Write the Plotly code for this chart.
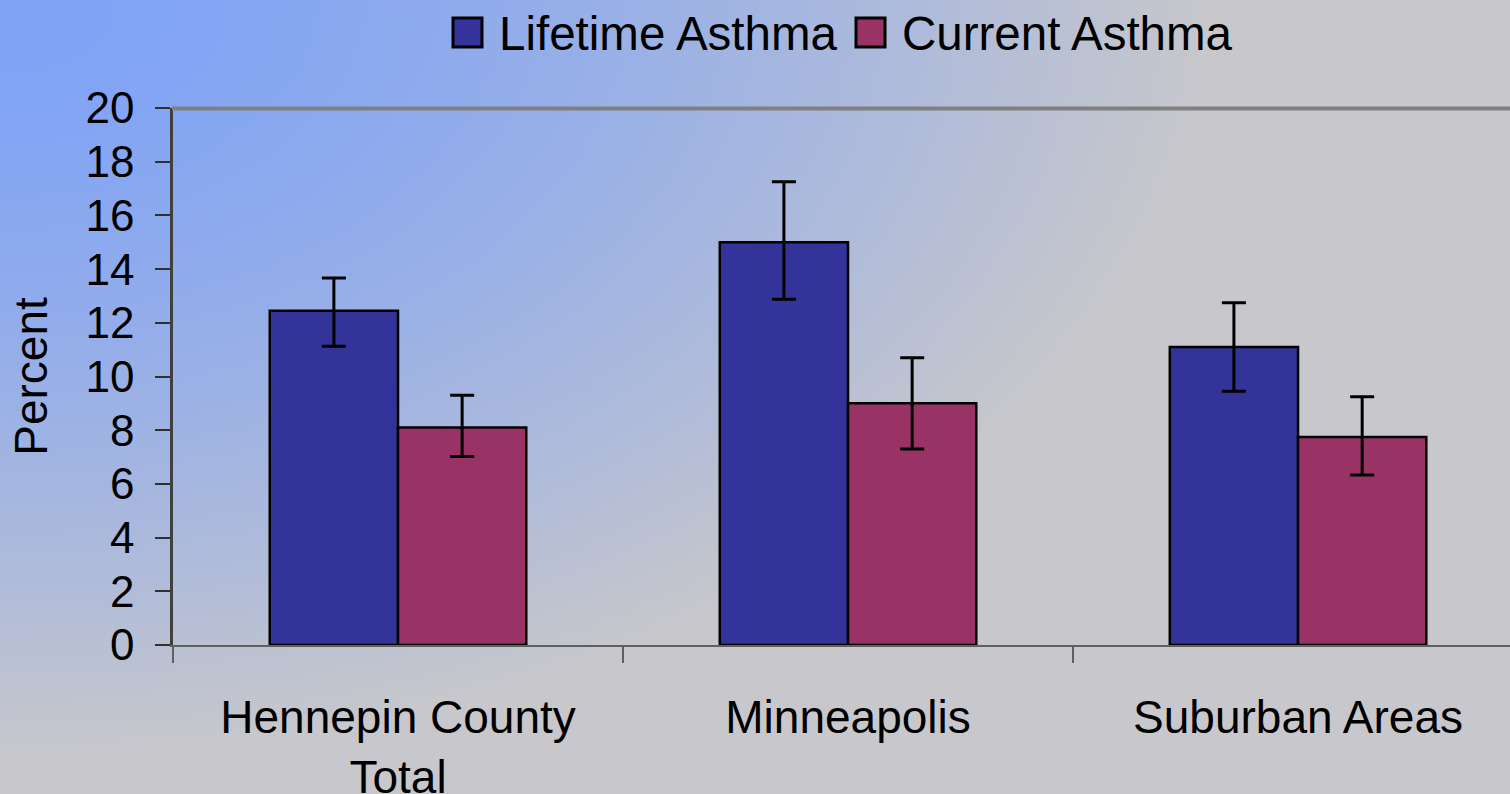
import base64, struct, zlib
import numpy as np
import plotly.graph_objects as go

categories = ["Hennepin County<br>Total", "Minneapolis", "Suburban Areas"]
lifetime = [12.45, 15.0, 11.1]
lifetime_plus = [1.22, 2.25, 1.65]
lifetime_minus = [1.32, 2.12, 1.65]
current = [8.1, 9.0, 7.75]
current_plus = [1.2, 1.7, 1.5]
current_minus = [1.08, 1.7, 1.42]
series_names = ["Lifetime Asthma", "Current Asthma"]
y_ticks = list(range(0, 21, 2))

W, H = 1510, 794
L, R, T, B = 173, 0, 108, 149
PW, PH = W - L - R, H - T - B

BLUE = "#333399"
RED = "#993366"
FONT = "Liberation Sans, Arial, sans-serif"


def gradient_png(w, h):
    c0 = np.array([127, 163, 247], dtype=float)
    c1 = np.array([200, 200, 204], dtype=float)
    xs = (np.arange(w) + 0.5) / w
    ys = (np.arange(h) + 0.5) / h
    X, Y = np.meshgrid(xs, ys)
    u = X / 0.8
    v = Y / 0.95
    d = np.clip(np.sqrt(u ** 2 + v ** 2), 0, 1)
    t = d ** 1.5
    img = (c0[None, None, :] * (1 - t[..., None]) + c1[None, None, :] * t[..., None])
    img = np.clip(img, 0, 255).astype(np.uint8)
    raw = b"".join(b"\x00" + row.tobytes() for row in img)

    def chunk(tp, data):
        c = struct.pack(">I", len(data)) + tp + data
        return c + struct.pack(">I", zlib.crc32(tp + data) & 0xFFFFFFFF)

    png = b"\x89PNG\r\n\x1a\n"
    png += chunk(b"IHDR", struct.pack(">IIBBBBB", w, h, 8, 2, 0, 0, 0))
    png += chunk(b"IDAT", zlib.compress(raw, 9))
    png += chunk(b"IEND", b"")
    return "data:image/png;base64," + base64.b64encode(png).decode()


def px_x(px):
    return (px - L) / PW


def px_y(py):
    return (H - B - py) / PH


fig = go.Figure()
fig.add_trace(go.Bar(
    x=categories, y=lifetime, name=series_names[0],
    marker=dict(color=BLUE, line=dict(color="black", width=2.5)),
    error_y=dict(type="data", symmetric=False, array=lifetime_plus,
                 arrayminus=lifetime_minus, color="black", thickness=3, width=12),
    showlegend=False,
))
fig.add_trace(go.Bar(
    x=categories, y=current, name=series_names[1],
    marker=dict(color=RED, line=dict(color="black", width=2.5)),
    error_y=dict(type="data", symmetric=False, array=current_plus,
                 arrayminus=current_minus, color="black", thickness=3, width=12),
    showlegend=False,
))

# top border line of the plot area (unclipped, paper-referenced)
fig.add_shape(type="line", xref="paper", yref="paper", x0=px_x(172), x1=1,
              y0=px_y(108.5), y1=px_y(108.5),
              line=dict(color="#808080", width=4), layer="above")

# manual legend (large swatches as in reference)
legend_items = [(452, BLUE, series_names[0]), (855, RED, series_names[1])]
for sx, col, name in legend_items:
    fig.add_shape(type="rect", xref="paper", yref="paper",
                  x0=px_x(sx + 1), x1=px_x(sx + 30), y0=px_y(47), y1=px_y(18),
                  fillcolor=col, line=dict(color="black", width=3))
    fig.add_annotation(xref="paper", yref="paper", x=px_x(sx + 45), y=px_y(33),
                       xanchor="left", yanchor="middle", text=name, showarrow=False,
                       font=dict(family=FONT, size=47.5, color="black"))

fig.add_layout_image(dict(
    source=gradient_png(302, 159), xref="paper", yref="paper",
    x=-L / PW, y=1 + T / PH, sizex=W / PW, sizey=H / PH,
    xanchor="left", yanchor="top", sizing="stretch", layer="below",
))

fig.update_layout(
    width=W, height=H,
    margin=dict(l=L, r=R, t=T, b=B, pad=0, autoexpand=False),
    paper_bgcolor="rgba(0,0,0,0)", plot_bgcolor="rgba(0,0,0,0)",
    barmode="group", bargap=0.43, bargroupgap=0,
    font=dict(family=FONT, size=46, color="black"),
    showlegend=False,
    xaxis=dict(
        range=[-0.5, 2.471], showgrid=False, zeroline=False, automargin=False,
        showline=True, linecolor="#606060", linewidth=2,
        ticks="outside", tickson="boundaries", ticklen=16, tickwidth=2, tickcolor="#606060",
        tickfont=dict(family=FONT, size=46, color="black"),
        ticklabelstandoff=31,
    ),
    yaxis=dict(
        range=[0, 20], tickvals=y_ticks, showgrid=False, zeroline=False, automargin=False,
        showline=True, linecolor="#404040", linewidth=2.5,
        ticks="outside", ticklen=15, tickwidth=2, tickcolor="#303030",
        tickfont=dict(family=FONT, size=44, color="black"),
        ticklabelstandoff=12,
        title=dict(text="Percent", standoff=24, font=dict(family=FONT, size=46, color="black")),
    ),
)

fig.write_html(
    "out.html",
    config={"displayModeBar": False},
    post_script="document.body.style.margin='0';document.body.style.overflow='hidden';",
)
